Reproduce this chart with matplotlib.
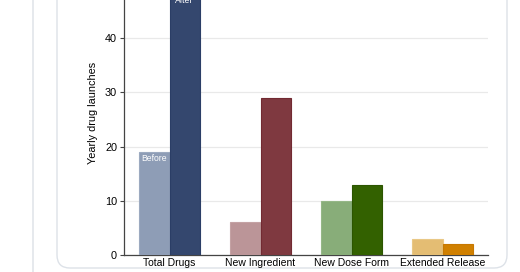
import matplotlib.pyplot as plt
from matplotlib.patches import FancyBboxPatch
from matplotlib.lines import Line2D
import numpy as np

plt.rcParams['font.family'] = ['Liberation Sans', 'DejaVu Sans']

# data
categories = ["Total Drugs", "New Ingredient", "New Dose Form", "Extended Release"]
before = [19, 6, 10, 3]
after = [48, 29, 13, 2]
before_colors = ["#8e9db6", "#bb9598", "#88ad79", "#e4bd73"]
after_colors = ["#34476e", "#7f3940", "#336100", "#d08000"]
before_edges = ["#9caac0", "#c4a2a4", "#95b787", "#e9c886"]
after_edges = ["#2b3e66", "#722a32", "#2c5500", "#c77800"]

W, H = 520, 272
fig = plt.figure(figsize=(W / 100, H / 100), dpi=100)

# card background
fig.add_artist(Line2D([33 / W, 33 / W], [0, 1], color="#e1e5ea", lw=1.2, zorder=-2))
card = FancyBboxPatch((57 / W, (H - 268) / H), (507 - 57) / W, 1.2,
                      boxstyle="round,pad=0,rounding_size=0.025",
                      transform=fig.transFigure, facecolor="white",
                      edgecolor="#dde2e8", lw=1.0, mutation_aspect=W / H, zorder=-1)
fig.add_artist(card)

ax = fig.add_axes([124 / W, (H - 255) / H, (488 - 124) / W, 255 / H])
ax.set_facecolor("none")
x = np.arange(len(categories))
bw = 0.33
ax.bar(x - bw / 2, before, bw, color=before_colors, edgecolor=before_edges, lw=0.8, zorder=3)
ax.bar(x + bw / 2, after, bw, color=after_colors, edgecolor=after_edges, lw=0.8, zorder=3)

ax.text(x[0] - bw / 2, before[0] - 1.1, "Before", color="white", fontsize=6.2,
        ha="center", va="center", zorder=4)
ax.text(x[0] + bw / 2, after[0] - 1.1, "After", color="white", fontsize=6.2,
        ha="center", va="center", zorder=4)

ax.set_xlim(-0.5, 3.5)
ax.set_ylim(0, 47.07)
ax.set_yticks([0, 10, 20, 30, 40])
ax.set_xticks(x)
ax.set_xticklabels(categories, fontsize=7.5)
ax.tick_params(axis="y", labelsize=7.8, length=3, width=0.8, color="#444444", pad=2)
ax.tick_params(axis="x", length=0, pad=2)
ax.grid(axis="y", color="#e9e9e9", lw=0.9, zorder=0)
for s in ["top", "right"]:
    ax.spines[s].set_visible(False)
ax.spines["left"].set_color("#444444")
ax.spines["bottom"].set_color("#444444")
ax.spines["left"].set_linewidth(0.9)
ax.spines["bottom"].set_linewidth(0.9)

fig.text(93 / W, 1 - 113 / H, "Yearly drug launches", rotation=90, fontsize=7.8,
         ha="center", va="center")

fig.savefig("out.png", dpi=100)
